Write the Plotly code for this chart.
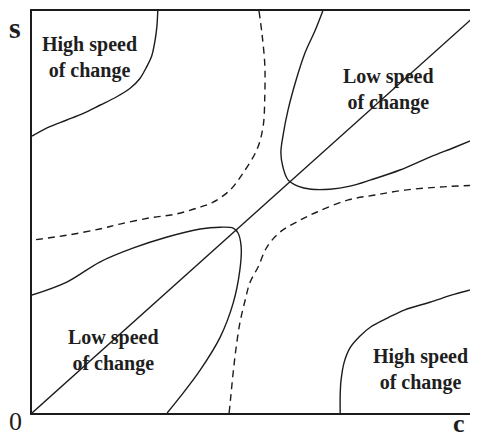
import plotly.graph_objects as go

# Curve data (c on x, s on y)
diag_x = [0.0, 10.0]
diag_y = [0.0, 8.95]

ul_x = [2.82, 2.80, 2.76, 2.68, 2.57, 2.42, 2.20, 1.90, 1.52, 1.15, 0.78, 0.40, 0.0]
ul_y = [9.0, 8.65, 8.35, 7.98, 7.75, 7.49, 7.27, 7.08, 6.89, 6.71, 6.56, 6.41, 6.2]

ur_x = [6.52, 6.35, 6.12, 5.92, 5.74, 5.63, 5.58, 5.63, 5.74, 5.96, 6.26, 6.68, 7.13, 7.60, 8.25, 8.92, 9.48, 10.0]
ur_y = [9.0, 8.57, 8.06, 7.45, 6.78, 6.22, 5.82, 5.49, 5.22, 5.08, 5.01, 5.01, 5.08, 5.22, 5.44, 5.73, 5.95, 6.16]

ll_x = [0.0, 0.78, 1.52, 2.26, 3.03, 3.77, 4.22, 4.51, 4.62, 4.69, 4.66, 4.51, 4.22, 3.77, 3.32, 3.03]
ll_y = [2.64, 2.93, 3.38, 3.69, 3.94, 4.12, 4.16, 4.14, 4.03, 3.72, 3.20, 2.46, 1.70, 0.96, 0.36, 0.0]

lr_x = [6.91, 6.91, 6.93, 7.0, 7.13, 7.35, 7.60, 7.98, 8.36, 8.92, 9.48, 10.0]
lr_y = [0.0, 0.40, 0.74, 1.14, 1.46, 1.72, 1.93, 2.13, 2.31, 2.48, 2.66, 2.80]

du_x = [5.09, 5.16, 5.22, 5.22, 5.18, 5.04, 4.73, 4.44, 4.06, 3.77, 3.21, 2.65, 1.97, 1.52, 0.78, 0.0]
du_y = [9.0, 8.46, 7.79, 7.12, 6.40, 5.89, 5.37, 4.99, 4.72, 4.61, 4.45, 4.37, 4.23, 4.12, 3.98, 3.87]

dl_x = [4.42, 4.46, 4.51, 4.57, 4.66, 4.78, 4.89, 5.07, 5.27, 5.56, 5.94, 6.39, 7.09, 7.69, 8.36, 9.15, 10.0]
dl_y = [0.0, 0.40, 0.90, 1.41, 2.01, 2.53, 2.93, 3.27, 3.72, 4.05, 4.28, 4.50, 4.77, 4.88, 4.99, 5.06, 5.10]

labels = ["High speed<br>of change", "Low speed<br>of change", "Low speed<br>of change", "High speed<br>of change"]
label_x = [1.28, 8.0, 1.82, 8.72]
label_y = [7.95, 7.25, 1.39, 0.98]

axis_texts = ["<b>s</b>", "0", "<b>c</b>"]
axis_text_x = [-0.038, -0.036, 0.958]
axis_text_y = [0.958, -0.02, -0.0672]
axis_text_size = [30, 26, 26]
axis_text_yanchor = ["middle", "middle", "bottom"]

INK = "#1c1c1c"
fig = go.Figure()

def add(x, y, dash=None, shape="spline"):
    fig.add_trace(go.Scatter(x=x, y=y, mode="lines", line_shape=shape,
                             line=dict(color=INK, width=1.4, dash=dash),
                             hoverinfo="skip", showlegend=False, cliponaxis=True))

add(diag_x, diag_y, shape="linear")
add(ul_x, ul_y)
add(ur_x, ur_y)
add(ll_x, ll_y)
add(lr_x, lr_y)
add(du_x, du_y, dash="7px,5px")
add(dl_x, dl_y, dash="7px,5px")

FONT = "Liberation Serif"
for t, x, y in zip(labels, label_x, label_y):
    fig.add_annotation(x=x, y=y, text="<b>" + t + "</b>", showarrow=False,
                       font=dict(family=FONT, size=20, color="#1e1e1e"),
                       xanchor="center", yanchor="middle")

for t, x, y, s, ya in zip(axis_texts, axis_text_x, axis_text_y, axis_text_size, axis_text_yanchor):
    fig.add_annotation(x=x, y=y, xref="paper", yref="paper", text=t, showarrow=False,
                       font=dict(family=FONT, size=s, color="#1e1e1e"),
                       xanchor="center", yanchor=ya)

# page body has an 8px default margin; compensate so plot area spans x 32..478, y 11..413
fig.update_layout(
    width=470, height=432,
    margin=dict(l=24, r=0, t=3, b=27),
    plot_bgcolor="white", paper_bgcolor="white",
    xaxis=dict(range=[0, 10], showgrid=False, zeroline=False, showticklabels=False,
               ticks="", showline=True, mirror=True, linecolor=INK, linewidth=2, fixedrange=True),
    yaxis=dict(range=[0, 9], showgrid=False, zeroline=False, showticklabels=False,
               ticks="", showline=True, mirror=False, linecolor=INK, linewidth=2, fixedrange=True),
)

fig.write_html("out.html")
